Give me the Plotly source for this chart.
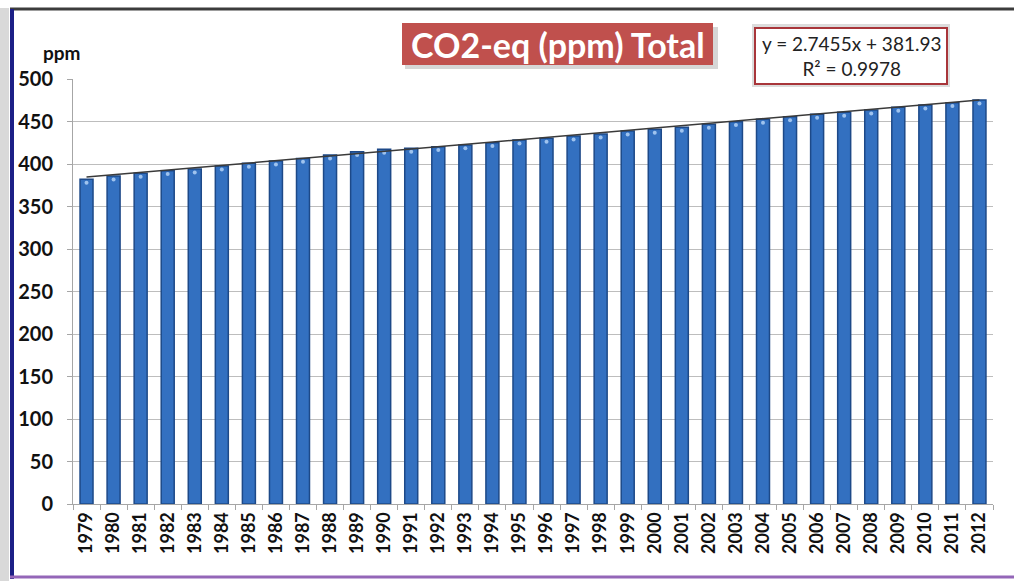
import plotly.graph_objects as go

years = [str(y) for y in range(1979, 2013)]
co2eq = [382.0, 385.9, 389.0, 392.1, 394.1, 397.6, 400.8, 403.5, 406.6, 410.6,
         414.5, 417.3, 418.5, 420.4, 422.4, 425.1, 428.2, 430.2, 432.9, 435.3,
         438.8, 440.8, 443.2, 446.7, 449.8, 452.6, 455.6, 458.5, 460.8, 463.5,
         466.7, 469.4, 472.1, 475.3]
trend_slope = 2.7455
trend_intercept = 381.93
y_ticks = list(range(0, 501, 50))

title_text = "CO2-eq (ppm) Total"
eq_text = "y = 2.7455x + 381.93<br>R² = 0.9978"
y_unit = "ppm"

W, H = 1014, 581
L, R, T, B = 73, 993, 79, 504
PW, PH = R - L, B - T

def px(x):
    return (x - L) / PW

def py(y):
    return (B - y) / PH

trend_x = [years[0], years[-1]]
trend_y = [trend_slope * 1 + trend_intercept, trend_slope * len(years) + trend_intercept]

FONT = "Lato"

fig = go.Figure()
fig.add_trace(go.Bar(
    x=years, y=co2eq,
    marker=dict(color="#3370c0", line=dict(color="#1d4988", width=1.5)),
    hoverinfo="x+y", showlegend=False,
))
fig.add_trace(go.Scatter(
    x=years, y=[v - 4 for v in co2eq], mode="markers",
    marker=dict(size=4, color="#9fc3ee", line=dict(width=0)),
    hoverinfo="skip", showlegend=False,
))
fig.add_trace(go.Scatter(
    x=trend_x, y=trend_y, mode="lines",
    line=dict(color="#3a3a3a", width=1.5),
    hoverinfo="skip", showlegend=False,
))

shapes = []
# frame
shapes.append(dict(type="rect", xref="paper", yref="paper", x0=px(0), x1=px(9), y0=py(581), y1=py(8),
                   fillcolor="#d9d9d9", line=dict(width=0), layer="below"))
shapes.append(dict(type="line", xref="paper", yref="paper", x0=px(10), x1=px(1014), y0=py(9), y1=py(9),
                   line=dict(color="#3c3c3c", width=3)))
shapes.append(dict(type="line", xref="paper", yref="paper", x0=px(12), x1=px(12), y0=py(9), y1=py(579),
                   line=dict(color="#1c1f86", width=4)))
shapes.append(dict(type="line", xref="paper", yref="paper", x0=px(10), x1=px(1014), y0=py(577), y1=py(577),
                   line=dict(color="#9466b8", width=3)))
# title box shadow + box
shapes.append(dict(type="rect", xref="paper", yref="paper", x0=px(405), x1=px(718), y0=py(69), y1=py(27),
                   fillcolor="#d6d6d6", line=dict(width=0), layer="above"))
shapes.append(dict(type="rect", xref="paper", yref="paper", x0=px(402), x1=px(713), y0=py(65), y1=py(23),
                   fillcolor="#c0504d", line=dict(width=0), layer="above"))
# equation box shadow + box
shapes.append(dict(type="rect", xref="paper", yref="paper", x0=px(752), x1=px(950), y0=py(87), y1=py(24),
                   fillcolor="#dcdcdc", line=dict(width=0), layer="above"))
shapes.append(dict(type="rect", xref="paper", yref="paper", x0=px(755), x1=px(947), y0=py(84), y1=py(28),
                   fillcolor="white", line=dict(color="#a8353a", width=2), layer="above"))

annotations = [
    dict(text=title_text, xref="paper", yref="paper", x=px(557.5), y=py(44), showarrow=False,
         font=dict(family=FONT, size=34, color="white", weight="bold"), xanchor="center", yanchor="middle"),
    dict(text=eq_text, xref="paper", yref="paper", x=px(851), y=py(56), showarrow=False,
         font=dict(family=FONT, size=19, color="#222222"), xanchor="center", yanchor="middle", align="center"),
    dict(text=y_unit, xref="paper", yref="paper", x=px(62), y=py(52), showarrow=False,
         font=dict(family=FONT, size=19, color="#111111", weight="bold"), xanchor="center", yanchor="middle"),
]

fig.update_layout(
    width=W, height=H,
    margin=dict(l=L, r=W - R, t=T, b=H - B, pad=0),
    paper_bgcolor="white", plot_bgcolor="white",
    bargap=0.52,
    shapes=shapes, annotations=annotations,
    xaxis=dict(type="category", range=[-0.5, len(years) - 0.5], tickangle=-90, showgrid=False,
               showline=True, linecolor="#a6a6a6", linewidth=1,
               ticks="outside", tickson="boundaries", ticklen=5, tickcolor="#a6a6a6",
               tickfont=dict(family=FONT, size=18, color="#111111", weight="bold"),
               fixedrange=True),
    yaxis=dict(range=[0, 500], tickvals=y_ticks, showgrid=True, gridcolor="#bdbdbd", gridwidth=1,
               showline=True, linecolor="#a6a6a6", linewidth=1,
               ticks="outside", ticklen=5, tickcolor="#a6a6a6", ticklabelstandoff=10,
               tickfont=dict(family=FONT, size=20, color="#111111", weight="bold"),
               zeroline=False, fixedrange=True),
)

fig.write_html("out.html", config={"displayModeBar": False},
               post_script="document.body.style.margin='0';document.body.style.overflow='hidden';")
